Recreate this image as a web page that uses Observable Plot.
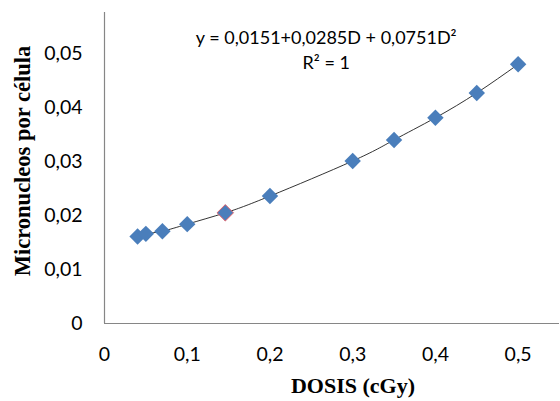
<!DOCTYPE html>
<html>
<head>
<meta charset="utf-8">
<script src="https://cdn.jsdelivr.net/npm/d3@7"></script>
<script src="https://cdn.jsdelivr.net/npm/@observablehq/plot@0.6"></script>
<style>
  html, body { margin: 0; padding: 0; background: #fff; }
  #chart svg { display: block; }
</style>
</head>
<body>
<div id="chart"></div>
<script>
// Data
const dosis = [0.04, 0.05, 0.07, 0.1, 0.146, 0.2, 0.3, 0.35, 0.4, 0.45, 0.5];
const micronucleos = [0.0161, 0.0166, 0.0171, 0.0184, 0.0205, 0.0236, 0.0301, 0.0340, 0.0381, 0.0427, 0.0480];
const highlighted = [0.146]; // point drawn with a red outline
const xTicks = [0, 0.1, 0.2, 0.3, 0.4, 0.5];
const yTicks = [0, 0.01, 0.02, 0.03, 0.04, 0.05];
const equationText = "y = 0,0151+0,0285D + 0,0751D²\nR² = 1";
const equationPos = {x: 0.268, y: 0.0510};
const xTitle = "DOSIS (cGy)";
const yTitle = "Micronucleos por célula";

const data = dosis.map((d, i) => ({x: d, y: micronucleos[i], hi: highlighted.includes(d)}));
const fmt = (d, n) => d === 0 ? "0" : d.toFixed(n).replace(".", ",");

const axisColor = "#868686";
const pointColor = "#4a7ebb";

const chart = Plot.plot({
  width: 560,
  height: 401,
  marginLeft: 104,
  marginRight: 1,
  marginTop: 12,
  marginBottom: 78,
  style: {fontFamily: "Lato, sans-serif", background: "#fff"},
  x: {domain: [0, 0.55], ticks: xTicks, tickFormat: d => fmt(d, 1)},
  y: {domain: [0, 0.0576], ticks: yTicks, tickFormat: d => fmt(d, 2)},
  marks: [
    Plot.axisX({ticks: xTicks, tickFormat: d => fmt(d, 1), tickSize: 0, tickPadding: 24, fontSize: 19.5, label: null, color: "#000"}),
    Plot.axisY({ticks: yTicks, tickFormat: d => fmt(d, 2), tickSize: 0, tickPadding: 22, fontSize: 19.5, label: null, color: "#000"}),
    Plot.ruleX([0], {stroke: axisColor, strokeWidth: 1.2}),
    Plot.ruleY([0], {stroke: axisColor, strokeWidth: 1.2}),
    Plot.line(data, {x: "x", y: "y", curve: "natural", stroke: "#111", strokeWidth: 1, strokeOpacity: 0.85}),
    Plot.dot(data, {x: "x", y: "y", symbol: "diamond2", r: 7.4, fill: pointColor, stroke: d => d.hi ? "#e0606a" : "none", strokeWidth: 1}),
    Plot.text([equationText], {x: () => equationPos.x, y: () => equationPos.y, fontSize: 18, lineHeight: 1.4, fill: "#000", textAnchor: "middle", fontFamily: "Lato, sans-serif"}),
    Plot.text([xTitle], {frameAnchor: "bottom", textAnchor: "middle", dx: 21, dy: 69, fontSize: 22, fontWeight: "bold", fontFamily: "Liberation Serif, serif", fill: "#000"}),
    Plot.text([yTitle], {frameAnchor: "left", textAnchor: "middle", rotate: -90, dx: -82, dy: -7, fontSize: 22.5, fontWeight: "bold", fontFamily: "Liberation Serif, serif", fill: "#000"})
  ]
});
document.getElementById("chart").appendChild(chart);
</script>
</body>
</html>
